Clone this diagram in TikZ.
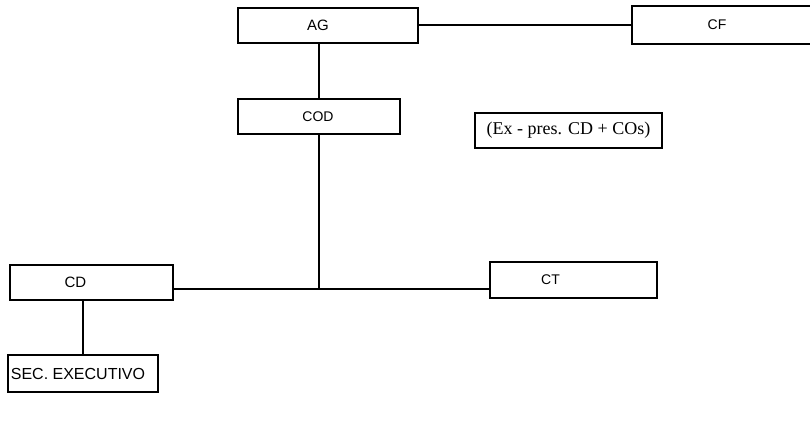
\documentclass[tikz,border=0pt]{standalone}
\usepackage{fontspec}
\setmainfont{Liberation Sans}
\newfontfamily\notefont{Liberation Serif}
\begin{document}
\begin{tikzpicture}[x=1pt,y=-1pt,
  box/.style={draw, line width=1.2pt, rectangle, inner sep=0pt},
  big/.style={font=\fontsize{15}{17}\selectfont},
  small/.style={font=\fontsize{14}{16}\selectfont},
  conn/.style={line width=1.3pt}]
\useasboundingbox (0,0) rectangle (810,431);
\node[box, minimum width=180pt, minimum height=35pt,
  label={[big, name=agt, xshift=-10pt]center:AG}] (ag) at (328,25.5) {};
\node[box, minimum width=180pt, minimum height=38pt,
  label={[small, name=cft, xshift=-5pt]center:CF}] (cf) at (722,25) {};
\node[box, minimum width=162pt, minimum height=35pt,
  label={[font=\fontsize{14}{16}\selectfont, name=codt, xshift=-1pt]center:COD}] (cod) at (319,116.5) {};
\node[box, minimum width=187pt, minimum height=35pt,
  font=\notefont\fontsize{18}{20}\selectfont] (note) at (568.5,130.5) {(Ex - pres. CD + COs)};
\node[box, minimum width=163pt, minimum height=35pt,
  label={[big, name=cdt, xshift=-16pt]center:CD}] (cd) at (91.5,282.5) {};
\node[box, minimum width=167pt, minimum height=36pt,
  label={[small, name=ctt, xshift=-23pt]center:CT}] (ct) at (573.5,280) {};
\node[box, minimum width=150pt, minimum height=37pt,
  label={[font=\fontsize{16}{18}\selectfont, name=sect, xshift=-5pt]center:SEC. EXECUTIVO}] (sec) at (83,373.5) {};
\coordinate (j) at (319,289);
\draw[conn] (cf.west -| ag.east) -- (cf.west);
\draw[conn] (cod.north) -- (cod.north |- ag.south);
\draw[conn] (cod.south) -- (j);
\draw[conn] (j -| cd.east) -- (j -| ct.west);
\draw[conn] (sec.north) -- (sec.north |- cd.south);
\end{tikzpicture}
\end{document}
